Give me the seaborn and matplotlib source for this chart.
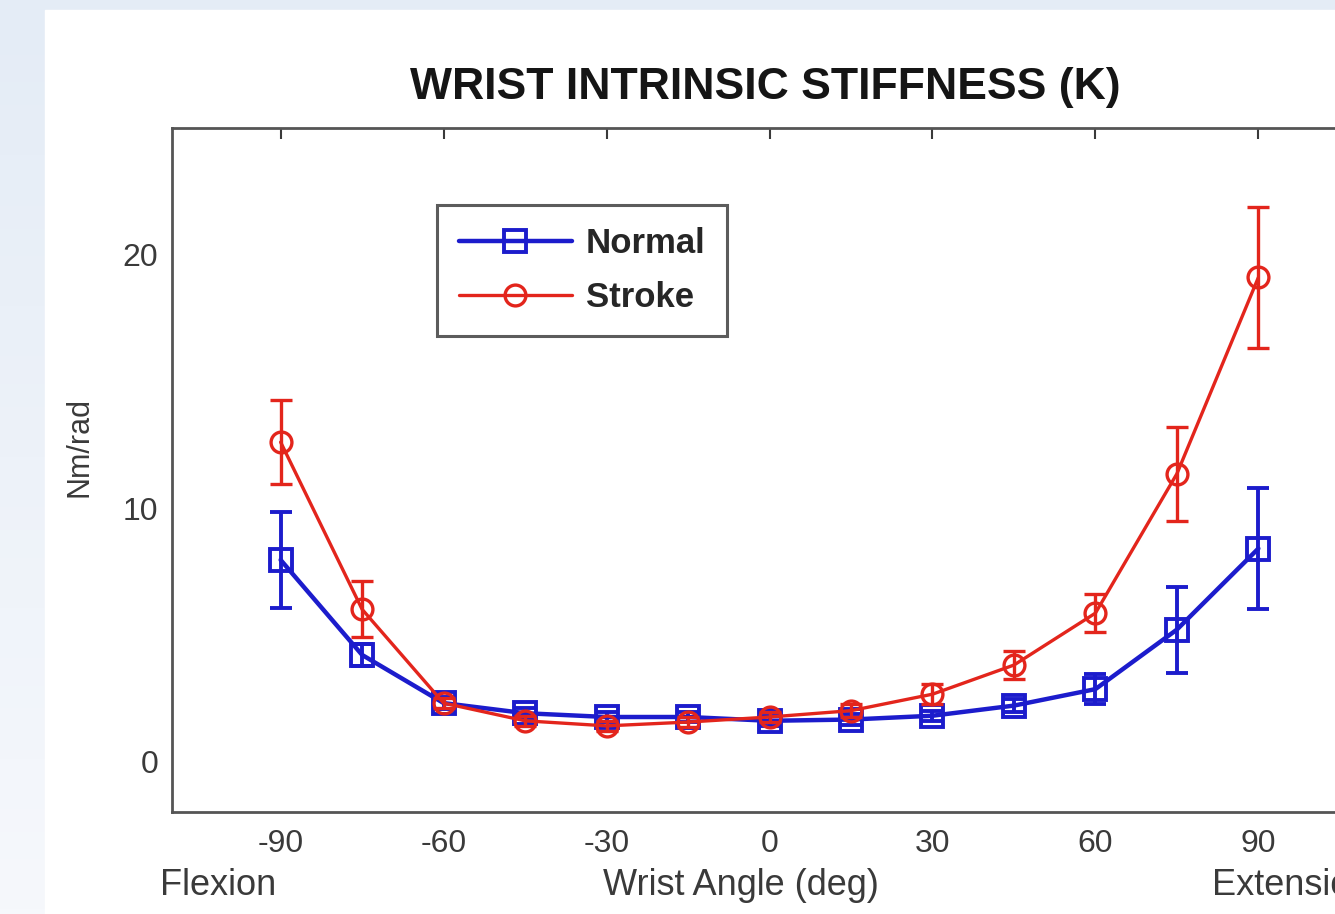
import numpy as np
import pandas as pd
import matplotlib
matplotlib.use("Agg")
import matplotlib.pyplot as plt
import seaborn as sns
from matplotlib.patches import Rectangle

# ---- data ----
angles = [-90, -75, -60, -45, -30, -15, 0, 15, 30, 45, 60, 75, 90]
normal_mean = [7.95, 4.2, 2.3, 1.9, 1.75, 1.75, 1.6, 1.65, 1.8, 2.2, 2.85, 5.2, 8.4]
normal_err = [1.9, 0.45, 0.25, 0.2, 0.2, 0.2, 0.2, 0.2, 0.2, 0.25, 0.6, 1.7, 2.4]
stroke_mean = [12.6, 6.0, 2.3, 1.6, 1.4, 1.55, 1.75, 2.0, 2.65, 3.8, 5.85, 11.35, 19.1]
stroke_err = [1.65, 1.1, 0.2, 0.2, 0.2, 0.2, 0.2, 0.25, 0.4, 0.55, 0.75, 1.85, 2.8]
series_names = ["Normal", "Stroke"]
xticks = [-90, -60, -30, 0, 30, 60, 90]
yticks = [0, 10, 20]

sns.set_style("white")
plt.rcParams['font.family'] = ['Liberation Sans', 'DejaVu Sans']

W, H = 1335, 914
fig = plt.figure(figsize=(W / 100, H / 100), dpi=100)

# background (slide-like light blue frame)
bg = fig.add_axes([0, 0, 1, 1], zorder=-10)
grad = np.linspace(0, 1, 200)[:, None]
bg.imshow(grad, aspect='auto', extent=[0, 1, 0, 1],
          cmap=matplotlib.colors.LinearSegmentedColormap.from_list(
              "g", ["#f6f8fc", "#e4ecf6"]), origin='lower')
bg.add_patch(Rectangle((45 / W, 0), 1, 1 - 10 / H, color='white'))
bg.set_xlim(0, 1)
bg.set_ylim(0, 1)
bg.axis('off')

left = 172 / W
bottom = 1 - 812 / H
width = (1367 - 172) / W
height = (812 - 128) / H
ax = fig.add_axes([left, bottom, width, height])
ax.set_facecolor('white')

blue = '#1c1ccc'
red = '#e3251c'

df = pd.DataFrame({
    "angle": angles * 2,
    "value": normal_mean + stroke_mean,
    "group": [series_names[0]] * len(angles) + [series_names[1]] * len(angles),
})

ax.errorbar(angles, normal_mean, yerr=normal_err, fmt='none', ecolor=blue,
            elinewidth=2.8, capsize=8, capthick=2.8, zorder=2)
ax.errorbar(angles, stroke_mean, yerr=stroke_err, fmt='none', ecolor=red,
            elinewidth=2.4, capsize=8, capthick=2.4, zorder=3)

sns.lineplot(data=df[df.group == "Normal"], x="angle", y="value", ax=ax,
             color=blue, lw=3.2, marker='s', markersize=16, markerfacecolor='none',
             markeredgecolor=blue, markeredgewidth=2.8, label="Normal", zorder=2)
sns.lineplot(data=df[df.group == "Stroke"], x="angle", y="value", ax=ax,
             color=red, lw=2.4, marker='o', markersize=15, markerfacecolor='none',
             markeredgecolor=red, markeredgewidth=2.4, label="Stroke", zorder=3)

ax.set_xlim(-110, 110)
ax.set_ylim(-2, 25)
ax.set_xticks(xticks)
ax.set_xticklabels([str(t) for t in xticks])
ax.set_yticks(yticks)
ax.set_xlabel("")
ax.tick_params(direction='in', length=8, width=1.5, top=True, right=True,
               labelsize=23, colors='#3a3a3a')
ax.tick_params(axis='x', pad=12)
ax.tick_params(axis='y', pad=10)
for s in ax.spines.values():
    s.set_color('#555555')
    s.set_linewidth(2)

ax.set_ylabel("Nm/rad", fontsize=22, color='#3a3a3a')
ax.yaxis.set_label_coords((94 - 172) / 1195, (812 - 447) / 684)

ax.set_title("WRIST INTRINSIC STIFFNESS (K)", fontsize=32, fontweight='bold', color='#151515',
             x=(765 - 172) / 1195, y=(812 - 99) / 684, va='baseline', pad=0)

fig.text(160 / W, 1 - 895 / H, "Flexion", fontsize=26, color='#3a3a3a', va='baseline', ha='left')
fig.text(741 / W, 1 - 895 / H, "Wrist Angle (deg)", fontsize=26, color='#3a3a3a', va='baseline', ha='center')
fig.text(1212 / W, 1 - 895 / H, "Extension", fontsize=26, color='#3a3a3a', va='baseline', ha='left')

leg = ax.legend(loc='upper left', bbox_to_anchor=((437 - 172) / 1195, (812 - 205) / 684),
                borderaxespad=0, prop={'weight': 'bold', 'size': 25}, handlelength=3.25,
                frameon=True, fancybox=False, edgecolor='#333333', borderpad=0.63,
                labelspacing=0.6, handletextpad=0.4)
leg.get_frame().set_linewidth(2.2)

fig.savefig("out.png", dpi=100)
